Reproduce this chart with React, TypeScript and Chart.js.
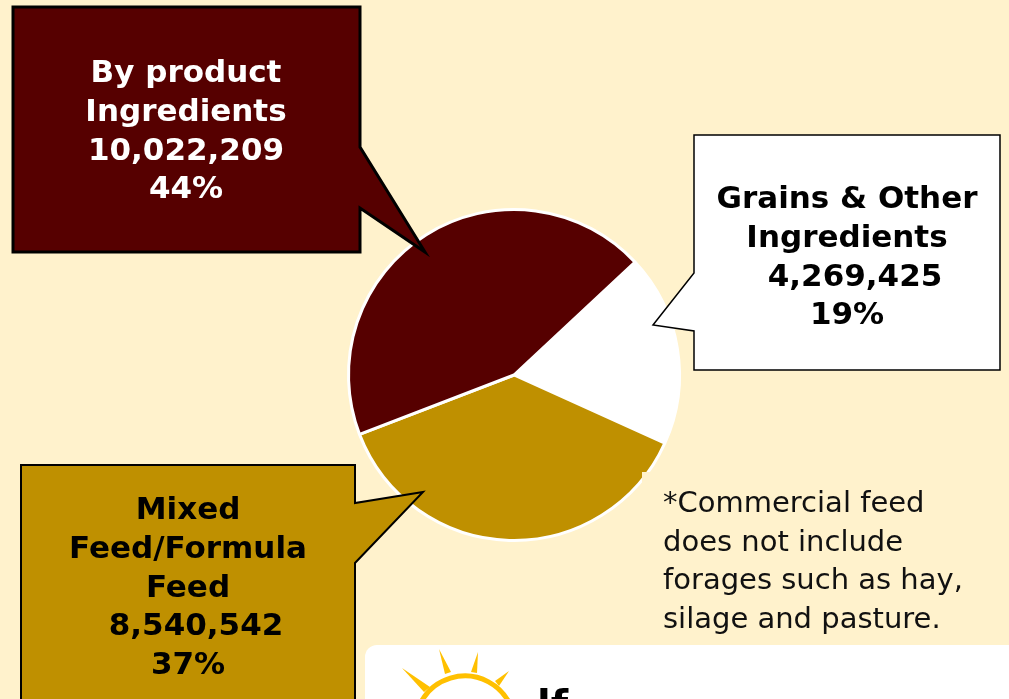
import React, { useEffect, useRef } from "react";
import { Chart, registerables } from "chart.js";

Chart.register(...registerables);

const categories = ["Grains & Other Ingredients", "Mixed Feed/Formula Feed", "By product Ingredients"];
const labelLines = [["Grains & Other", "Ingredients"], ["Mixed", "Feed/Formula", "Feed"], ["By product", "Ingredients"]];
const values = [4269425, 8540542, 10022209];
const sliceColors = ["#FFFFFF", "#BF9000", "#560000"];
const textColors = ["#000000", "#000000", "#FFFFFF"];
const footnoteLines = ["*Commercial feed", "does not include", "forages such as hay,", "silage and pasture."];

const BG = "#FFF2CC";

// callout geometry: box + pointer polygon, text block
const callouts = [
  {
    poly: [[694, 135], [1000, 135], [1000, 370], [694, 370], [694, 331], [653, 325], [694, 273]],
    cx: 847, firstBaseline: 208, lead: [false, false, true, false], lw: 1.5,
  },
  {
    poly: [[21, 465], [355, 465], [355, 503], [423, 492], [355, 563], [355, 740], [21, 740]],
    cx: 188, firstBaseline: 519, lead: [false, false, false, true, false], lw: 2,
  },
  {
    poly: [[13, 7], [360, 7], [360, 147], [425, 252], [360, 208], [360, 252], [13, 252]],
    cx: 186, firstBaseline: 82, lead: [false, false, false, false], lw: 3,
  },
];

const calloutPlugin = {
  id: "callouts",
  afterDraw(chart: any) {
    const ctx = chart.ctx as CanvasRenderingContext2D;
    ctx.save();
    // footnote background block
    ctx.fillStyle = BG;
    ctx.fillRect(642, 472, 367, 170);

    const total = values.reduce((a, b) => a + b, 0);
    callouts.forEach((c, i) => {
      ctx.beginPath();
      c.poly.forEach(([x, y], k) => (k === 0 ? ctx.moveTo(x, y) : ctx.lineTo(x, y)));
      ctx.closePath();
      ctx.fillStyle = sliceColors[i];
      ctx.fill();
      ctx.lineWidth = c.lw;
      ctx.strokeStyle = "#000000";
      ctx.lineJoin = "miter";
      ctx.stroke();

      const lines = [
        ...labelLines[i],
        values[i].toLocaleString("en-US"),
        Math.round((values[i] / total) * 100) + "%",
      ];
      ctx.fillStyle = textColors[i];
      ctx.font = "bold 31px 'DejaVu Sans'";
      ctx.textAlign = "center";
      ctx.textBaseline = "alphabetic";
      lines.forEach((t, k) => {
        const shift = c.lead[k] ? 8 : 0;
        ctx.fillText(t, c.cx + shift, c.firstBaseline + k * 38.8);
      });
    });

    // footnote
    ctx.fillStyle = "#111111";
    ctx.font = "29px 'DejaVu Sans'";
    ctx.textAlign = "left";
    footnoteLines.forEach((t, k) => ctx.fillText(t, 663, 512 + k * 38.5));

    // logo panel
    ctx.fillStyle = "#FFFFFF";
    ctx.beginPath();
    (ctx as any).roundRect(365, 645, 700, 120, 12);
    ctx.fill();

    // sun
    ctx.fillStyle = "#FFC000";
    const rays = [
      [[402, 668], [424, 692], [430, 687]],
      [[439, 649], [445, 674], [451, 672]],
      [[478, 652], [471, 672], [477, 673]],
      [[509, 671], [495, 681], [499, 686]],
    ];
    rays.forEach((r) => {
      ctx.beginPath();
      ctx.moveTo(r[0][0], r[0][1]);
      ctx.lineTo(r[1][0], r[1][1]);
      ctx.lineTo(r[2][0], r[2][1]);
      ctx.closePath();
      ctx.fill();
    });
    ctx.strokeStyle = "#FFC000";
    ctx.lineWidth = 5;
    ctx.beginPath();
    ctx.arc(465, 726, 50, (208 * Math.PI) / 180, (330 * Math.PI) / 180);
    ctx.stroke();

    ctx.fillStyle = "#000000";
    ctx.font = "bold 40px 'DejaVu Sans'";
    ctx.fillText("lf", 537, 719);
    ctx.restore();
  },
};

export default function App() {
  const ref = useRef<HTMLCanvasElement>(null);
  useEffect(() => {
    if (!ref.current) return;
    const chart = new Chart(ref.current, {
      type: "pie",
      data: {
        labels: categories,
        datasets: [
          {
            data: values,
            backgroundColor: sliceColors,
            borderColor: "#FFFFFF",
            borderWidth: 3,
          },
        ],
      },
      options: {
        responsive: false,
        animation: false,
        devicePixelRatio: 1,
        events: [],
        rotation: 47,
        layout: { padding: { left: 347, right: 328, top: 208, bottom: 157 } },
        plugins: { legend: { display: false }, tooltip: { enabled: false } },
      },
      plugins: [calloutPlugin],
    });
    return () => chart.destroy();
  }, []);
  return (
    <div style={{ position: "fixed", left: 0, top: 0, width: 1009, height: 699, background: BG, overflow: "hidden" }}>
      <canvas ref={ref} width={1009} height={699} style={{ display: "block" }} />
    </div>
  );
}
